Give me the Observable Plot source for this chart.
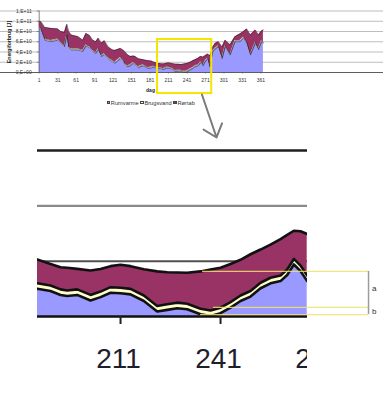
<!DOCTYPE html>
<html lang="da">
<head>
<meta charset="utf-8">
<script src="https://cdn.jsdelivr.net/npm/d3@7"></script>
<script src="https://cdn.jsdelivr.net/npm/@observablehq/plot@0.6"></script>
<style>
html, body { margin:0; padding:0; background:#fff; }
#root { position:relative; width:383px; height:400px; overflow:hidden; background:#fff; font-family:"Liberation Sans", Arial, sans-serif; }
#root svg { position:absolute; left:0; top:0; }
#zoomclip { position:absolute; left:37px; top:0; width:270px; height:400px; overflow:hidden; }
#zoomclip svg { left:-37px; }
.lbl { position:absolute; white-space:nowrap; color:#222; }
</style>
</head>
<body>
<div id="root"><div id="zoomclip"></div></div>
<script>
// ---------- data (energy in units of 1e10 J) ----------
const UNIT = 1e10;
const serier = ["Rumvarme", "Brugsvand", "Rørtab"];
const dag = [1,4,10,20,31,36,42,46,49,53,64,72,77,83,88,93,97,102,107,113,120,124,126,133,138,140,144,149,154,157,162,165,170,173,178,184,
  186,190,193,195,198,202,205,208,211,214,218,222,225,228,231,235,238,241,244,247,250,253,256,259,261,263,265,267,
  271,275,278,283,287,292,298,303,311,319,327,333,338,344,352,357,362,365];
const rumvarme = [8.8,8.3,6.3,6.0,6.3,5.8,5.0,7.3,4.8,4.4,4.4,4.1,5.2,4.8,4.1,3.7,4.4,3.1,3.5,2.7,2.1,1.8,2.0,2.7,2.1,1.6,1.1,1.3,1.8,1.5,0.9,1.1,1.3,1.1,0.8,0.9,
  1.0,0.92,0.78,0.74,0.78,0.58,0.70,0.86,0.84,0.80,0.56,0.18,0.24,0.30,0.26,0.08,0.02,0.12,0.32,0.56,0.72,1.02,1.20,1.28,1.50,1.88,1.64,1.28,
  2.2,2.6,1.1,4.1,4.6,5.0,2.7,5.0,3.4,6.0,6.0,6.7,5.7,3.4,5.7,4.4,6.0,5.7];
const brugsvand = [0.22,0.22,0.22,0.22,0.22,0.22,0.22,0.22,0.22,0.22,0.22,0.22,0.22,0.22,0.22,0.22,0.22,0.22,0.22,0.22,0.22,0.22,0.22,0.22,0.22,0.22,0.22,0.22,0.20,0.20,0.20,0.20,0.20,0.20,0.20,0.20,
  0.20,0.20,0.20,0.20,0.20,0.20,0.20,0.20,0.20,0.20,0.20,0.20,0.20,0.20,0.20,0.20,0.20,0.20,0.20,0.20,0.20,0.20,0.20,0.20,0.20,0.20,0.20,0.20,
  0.20,0.20,0.20,0.20,0.20,0.22,0.22,0.22,0.22,0.22,0.22,0.22,0.22,0.22,0.22,0.22,0.22,0.22];
const rortab = [0.98,1.38,2.28,2.38,1.98,1.98,2.58,1.88,2.98,2.68,2.38,1.98,2.18,2.18,1.98,2.08,2.08,2.38,2.48,2.08,2.08,2.28,2.18,1.78,1.98,2.28,2.18,1.58,1.20,1.40,1.60,1.30,1.00,1.10,1.30,1.10,
  0.86,0.78,0.80,0.82,0.74,0.88,0.82,0.76,0.83,0.82,0.95,1.25,1.16,1.09,1.12,1.35,1.48,1.44,1.38,1.29,1.33,1.20,1.20,1.32,1.25,1.02,1.24,1.50,
  0.90,0.80,1.90,0.70,0.90,0.78,2.08,1.08,1.78,0.78,1.28,1.08,2.58,3.68,2.38,2.68,1.88,2.38];

// axis ticks / labels
const xTicks = [1,31,61,91,121,151,181,211,241,271,301,331,361];
const yTicks = [0,2,4,6,8,10,12];            // 1e10 J
const yTickLabels = ["0,E+00","2,E+10","4,E+10","6,E+10","8,E+10","1,E+11","1,E+11"];
const xTitle = "dag";
const yTitle = "Energiforbrug [J]";

// zoomed window
const zoomDays = [186, 267];
const zoomGrid = [2, 4, 6];                  // 1e10 J
const zoomTicks = [211, 241, 271];
const zoomFrame = [{x1: 193.1, x2: 281.1, y1: -4.1, y2: 6.44}]; // dag / 1e10 J in overview
const arrowData = [{x1: 265.2, y1: -4.29, x2: 288.9, y2: -12.68}];

// a / b annotation (zoom coordinates)
const annStart = [235.6, 238.9, 235.0];
const annLevel = [1.63, 0.33, 0.07];
const annEnd = 285.4;
const annLabels = ["a", "b"];
const annLabelY = [1.0, 0.18];

// styles
const farver = ["#9999ff", "#ffffcc", "#993366"];

// ---------- table ----------
const table = [];
dag.forEach((d, i) => {
  table.push({dag: d, serie: serier[0], value: rumvarme[i] * UNIT});
  table.push({dag: d, serie: serier[1], value: brugsvand[i] * UNIT});
  table.push({dag: d, serie: serier[2], value: rortab[i] * UNIT});
});
const zoomTable = table.filter(r => r.dag >= zoomDays[0] && r.dag <= zoomDays[1]);

const font = "'Liberation Sans', Arial, sans-serif";
const base = {
  width: 383, height: 400, margin: 0,
  style: {background: "transparent", overflow: "visible", maxWidth: "none", fontFamily: font}
};
const color = {domain: serier, range: farver};

// ---------- overview chart ----------
const A = Plot.plot({
  ...base,
  x: {domain: [1, 365], range: [38.7, 262.9], axis: null},
  y: {domain: [0, 1.2e11], range: [72, 10.5], axis: null},
  color,
  marks: [
    Plot.ruleY(yTicks.slice(1).map(v => v * UNIT), {stroke: "#a0a0a0", strokeWidth: 0.7}),
    Plot.areaY(table, {x: "dag", y: "value", fill: "serie"}),
    Plot.lineY(table, Plot.stackY2({x: "dag", y: "value", z: "serie", stroke: "#222", strokeWidth: 0.5})),
    Plot.ruleY([0], {stroke: "#333", strokeWidth: 0.8}),
    Plot.ruleX([1], {y1: 0, y2: 1.2e11, stroke: "#555", strokeWidth: 0.7}),
    Plot.ruleY(yTicks.map(v => v * UNIT), {x1: -2.2, x2: 1, stroke: "#555", strokeWidth: 0.6}),
    Plot.ruleX(xTicks, {x: d => d, y1: () => 0, y2: () => -0.3 * UNIT, stroke: "#555", strokeWidth: 0.6}),
    Plot.text(yTicks, {x: () => 1, y: d => d * UNIT, text: (d, i) => yTickLabels[i], textAnchor: "end", dx: -7.5, fontSize: 5, fill: "#333"}),
    Plot.text(xTicks, {x: d => d, y: () => 0, dy: 8, text: d => String(d), fontSize: 5, fill: "#333"}),
    Plot.rect(zoomFrame, {x1: "x1", x2: "x2", y1: d => d.y1 * UNIT, y2: d => d.y2 * UNIT, fill: "none", stroke: "#f5e600", strokeWidth: 2}),
    Plot.arrow(arrowData, {x1: "x1", x2: "x2", y1: d => d.y1 * UNIT, y2: d => d.y2 * UNIT, stroke: "#7b7b7b", strokeWidth: 2, headLength: 15, headAngle: 80})
  ]
});

// ---------- zoomed chart ----------
const zx = {domain: zoomDays, range: [36.7, 306.7], axis: null};
const zy = {domain: [0, 6e10], range: [316, 150], axis: null};
const B = Plot.plot({
  ...base,
  x: zx, y: zy, color,
  marks: [
    Plot.ruleY([zoomGrid[0] * UNIT], {stroke: "#505050", strokeWidth: 2}),
    Plot.areaY(zoomTable, {x: "dag", y: "value", fill: "serie"}),
    Plot.lineY(zoomTable, Plot.stackY2({x: "dag", y: "value", z: "serie", stroke: "#111", strokeWidth: 2.6})),
    Plot.ruleY([zoomGrid[1] * UNIT], {stroke: "#8a8a8a", strokeWidth: 2.2}),
    Plot.ruleY([zoomGrid[2] * UNIT], {stroke: "#1e1e1e", strokeWidth: 2.6}),
    Plot.ruleY([0], {stroke: "#111", strokeWidth: 2.6}),
    Plot.ruleX(zoomTicks, {x: d => d, y1: () => 0, y2: () => -0.29 * UNIT, stroke: "#222", strokeWidth: 2}),
    Plot.text(zoomTicks, {x: d => d, y: () => 0, dy: 43, dx: -2, text: d => String(d), fontSize: 28, fill: "#1e1e2c"})
  ]
});

// ---------- a/b annotation ----------
const annRows = annLevel.map((v, i) => ({y: v * UNIT, x1: annStart[i], x2: annEnd}));
const C = Plot.plot({
  ...base,
  x: {...zx, domain: zoomDays}, y: zy,
  marks: [
    Plot.ruleY(annRows, {y: "y", x1: "x1", x2: "x2", stroke: "#f0e070", strokeOpacity: 0.85, strokeWidth: 1.2}),
    Plot.ruleX([annEnd], {y1: annLevel[2] * UNIT, y2: annLevel[0] * UNIT, stroke: "#9c9c9c", strokeWidth: 1.5}),
    Plot.text(annLabels, {x: () => annEnd, y: (d, i) => annLabelY[i] * UNIT, dx: 3.5, text: d => d, textAnchor: "start", fontSize: 8, fill: "#333"})
  ]
});

const root = document.getElementById("root");
const clip = document.getElementById("zoomclip");
root.insertBefore(A, clip);
clip.appendChild(B);
root.appendChild(C);

// ---------- HTML titles & legend ----------
function label(text, css) {
  const d = document.createElement("div");
  d.className = "lbl";
  d.textContent = text;
  d.style.cssText += css;
  root.appendChild(d);
  return d;
}
label(xTitle, "left:150.5px;top:86.5px;transform:translateX(-50%);font-size:5px;font-weight:bold;line-height:6px;");
label(yTitle, "left:8.5px;top:42px;transform:translate(-50%,-50%) rotate(-90deg);font-size:5.2px;font-weight:bold;line-height:6px;");

const legend = document.createElement("div");
legend.style.cssText = "position:absolute;left:106.5px;top:99.5px;display:flex;gap:1.5px;font-size:5.7px;line-height:6px;color:#333;white-space:nowrap;";
serier.forEach((s, i) => {
  const item = document.createElement("span");
  item.style.cssText = "display:flex;align-items:center;";
  const sq = document.createElement("span");
  sq.style.cssText = `display:inline-block;box-sizing:border-box;width:3.5px;height:3.5px;border:0.5px solid #444;background:${farver[i]};margin-right:0.8px;`;
  const t = document.createElement("span");
  t.textContent = s;
  item.appendChild(sq); item.appendChild(t);
  legend.appendChild(item);
});
root.appendChild(legend);
</script>
</body>
</html>
